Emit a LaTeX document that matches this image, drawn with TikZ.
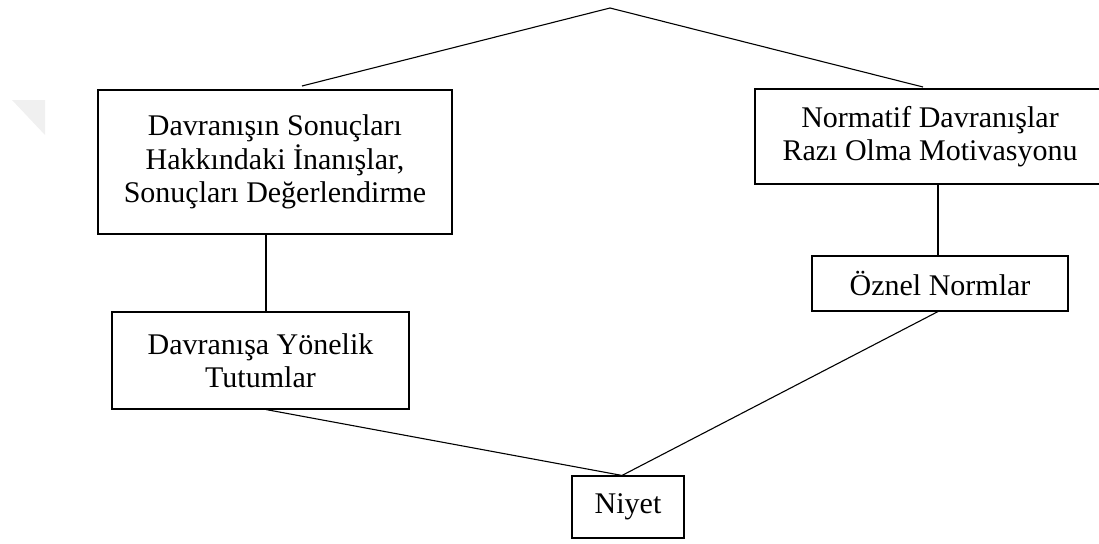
\documentclass[tikz,border=0pt]{standalone}
\usepackage{fontspec}
\setmainfont{Liberation Serif}
\usepackage{tikz}
\usetikzlibrary{positioning, calc}

\begin{document}
\begin{tikzpicture}[
        x=1pt, y=-1pt,
        box/.style={draw, line width=1.1pt, inner sep=0pt, align=center,
                    font=\fontsize{30}{33.5}\selectfont},
        ln/.style={line width=1.1pt}
      ]
        \useasboundingbox (0,0) rectangle (1099,543);
        \clip (0,0) rectangle (1099,543);
        % faint mark at the left
        \fill[gray!12] (12,100) -- (45,100) -- (45,135) -- cycle;
        % Top
        \coordinate (apex) at (610,8);
        \coordinate (lend) at (302,86);
        \coordinate (rend) at (923,87);
        \draw[ln] (lend) -- (apex) -- (rend);
        % Left column
        \node[box, minimum width=354, minimum height=144] (bel) at (275,162)
          {Davranışın Sonuçları\\Hakkındaki İnanışlar,\\Sonuçları Değerlendirme};
        \node[box, minimum width=297, minimum height=97] (att) at (260.5,360.5)
          {Davranışa Yönelik\\Tutumlar};
        \coordinate (lcol) at (266,0);
        \draw[ln] (bel.south -| lcol) -- (att.north -| lcol);
        % Right column
        \node[box, minimum width=350, minimum height=95] (norm) at (930,136.5)
          {Normatif Davranışlar\\Razı Olma Motivasyonu};
        \node[box, minimum width=256, minimum height=55] (subj) at (940,283.5)
          {Öznel Normlar};
        \coordinate (rcol) at (938,0);
        \draw[ln] (norm.south -| rcol) -- (subj.north -| rcol);
        % Bottom
        \node[box, minimum width=112, minimum height=62] (niyet) at (628,507) {Niyet};
        \coordinate (meet) at ([xshift=-6]niyet.north);
        \draw[ln] (att.south -| lcol) -- (meet) -- (subj.south -| rcol);
      \end{tikzpicture}
\end{document}
